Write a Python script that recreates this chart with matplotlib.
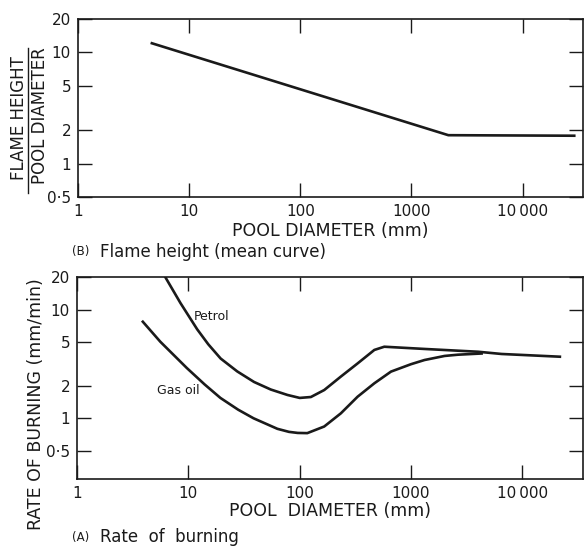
import matplotlib
matplotlib.use("Agg")
import matplotlib.pyplot as plt
from matplotlib.ticker import FixedLocator, FixedFormatter, NullLocator
from matplotlib.lines import Line2D

# --- data -------------------------------------------------------------
x_ticks = [1, 10, 100, 1000, 10000]
x_tick_labels = ["1", "10", "100", "1000", "10\u2009000"]
y_ticks = [0.5, 1, 2, 5, 10, 20]
y_tick_labels = ["0\u00b75", "1", "2", "5", "10", "20"]

# (B) mean flame height / pool diameter
flame_d = [4.5, 2150, 30000]
flame_ratio = [12.2, 1.8, 1.78]

# (A) rate of burning, mm/min
petrol_d = [6.2, 8.5, 12, 15.1, 19.5, 27.5, 38.9, 55, 77.6, 100, 126, 166,
            234, 331, 468, 575, 1320, 4000, 6500, 21700]
petrol_rate = [20, 11.5, 6.6, 4.8, 3.55, 2.7, 2.16, 1.84, 1.64, 1.54, 1.57,
               1.82, 2.42, 3.2, 4.26, 4.56, 4.35, 4.1, 3.91, 3.69]
gasoil_d = [3.9, 5.6, 9.7, 14, 19.4, 28, 38.5, 63, 80, 96, 117, 166, 234,
            331, 468, 660, 1000, 1320, 2000, 2630, 4300]
gasoil_rate = [7.75, 5.07, 2.9, 2.05, 1.54, 1.2, 1.0, 0.8, 0.75, 0.733,
               0.73, 0.84, 1.11, 1.58, 2.1, 2.69, 3.15, 3.44, 3.75, 3.85,
               3.95]

# --- layout -----------------------------------------------------------
W, H = 584, 546
fig = plt.figure(figsize=(W / 100, H / 100), dpi=100)
plt.rcParams["font.family"] = ["DejaVu Sans"]
ink = "#1a1a1a"


def px_axes(left, top, right, bottom):
    return fig.add_axes([left / W, (H - bottom) / H, (right - left) / W,
                         (bottom - top) / H])


def fig_text(x, y, s, **kw):
    fig.text(x / W, (H - y) / H, s, color=ink, **kw)


def style(ax, ymin, ymax):
    ax.set_xscale("log")
    ax.set_yscale("log")
    ax.set_xlim(1, 35000)
    ax.set_ylim(ymin, ymax)
    ax.xaxis.set_major_locator(FixedLocator(x_ticks))
    ax.xaxis.set_major_formatter(FixedFormatter(x_tick_labels))
    ax.yaxis.set_major_locator(FixedLocator(y_ticks))
    ax.yaxis.set_major_formatter(FixedFormatter(y_tick_labels))
    ax.xaxis.set_minor_locator(NullLocator())
    ax.yaxis.set_minor_locator(NullLocator())
    ax.tick_params(which="major", direction="in", length=10, width=1.0,
                   top=True, right=True, labelsize=11, pad=5, colors=ink)
    for sp in ax.spines.values():
        sp.set_linewidth(1.2)
        sp.set_color(ink)


# top panel: flame height
ax1 = px_axes(78, 19, 583, 197)
style(ax1, 0.5, 20)
ax1.plot(flame_d, flame_ratio, color=ink, lw=1.9, solid_capstyle="butt")
ax1.set_xlabel("POOL DIAMETER (mm)", fontsize=12.5, color=ink, labelpad=2)

fig_text(19, 118, "FLAME HEIGHT", rotation=90, fontsize=12,
         ha="center", va="center")
fig_text(40, 116, "POOL DIAMETER", rotation=90, fontsize=12,
         ha="center", va="center")
fig.add_artist(Line2D([27.5 / W, 27.5 / W], [(H - 48) / H, (H - 193) / H],
                      color=ink, lw=1.0))
fig_text(72, 252, "(B)", fontsize=8.5, ha="left", va="center")
fig_text(100, 252, "Flame height (mean curve)", fontsize=12, ha="left",
         va="center")

# bottom panel: rate of burning
ax2 = px_axes(77, 277, 583, 479)
style(ax2, 0.276, 20)
ax2.plot(petrol_d, petrol_rate, color=ink, lw=1.9)
ax2.plot(gasoil_d, gasoil_rate, color=ink, lw=1.9)
ax2.text(11.1, 8.6, "Petrol", fontsize=9, color=ink, ha="left", va="center")
ax2.text(5.25, 1.82, "Gas oil", fontsize=9, color=ink, ha="left",
         va="center")
ax2.set_xlabel("POOL  DIAMETER (mm)", fontsize=12.5, color=ink, labelpad=1)

fig_text(36, 404, "RATE OF BURNING (mm/min)", rotation=90, fontsize=12.5,
         ha="center", va="center")
fig_text(72, 537, "(A)", fontsize=8.5, ha="left", va="center")
fig_text(100, 537, "Rate  of  burning", fontsize=12, ha="left", va="center")

fig.savefig("out.png", dpi=100, facecolor="white")
